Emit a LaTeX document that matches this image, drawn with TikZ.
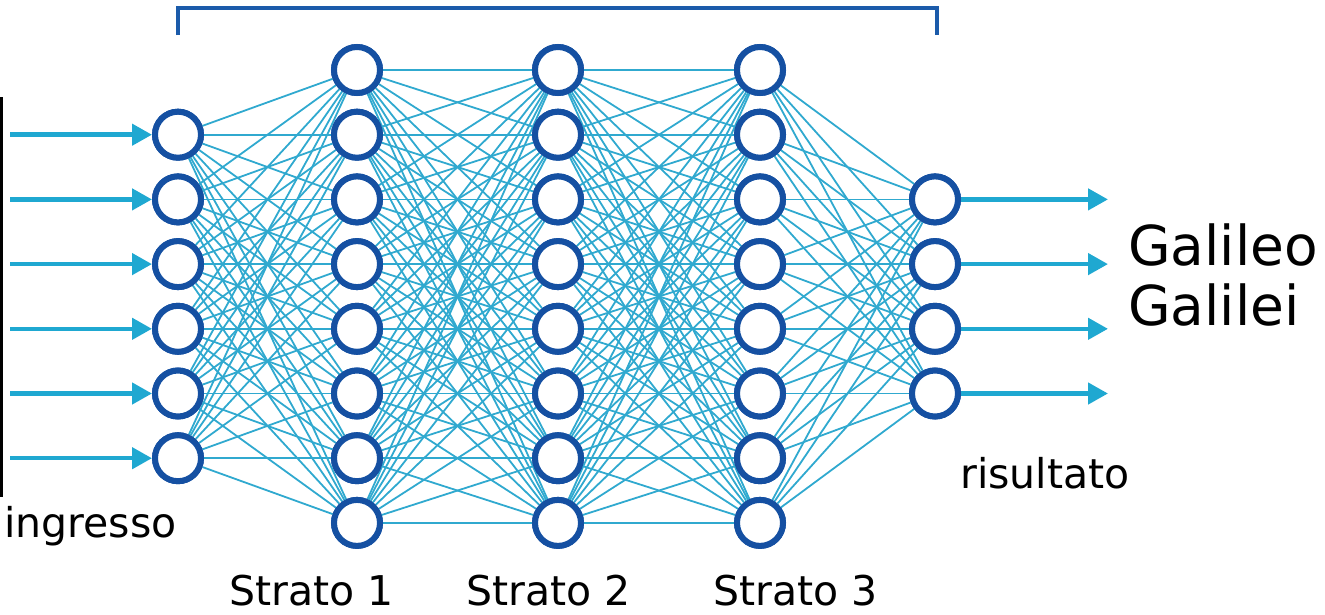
\documentclass[tikz,border=0pt]{standalone}
\usepackage{fontspec}
\setmainfont{DejaVu Sans}
\usetikzlibrary{arrows.meta}

\definecolor{nodeblue}{HTML}{1550A2}
\definecolor{linkcyan}{HTML}{30A9CF}
\definecolor{arrowcyan}{HTML}{1FA8D1}
\definecolor{bracketblue}{HTML}{1B5BAA}

\tikzset{
  neuron/.style={circle, draw=nodeblue, line width=6pt, fill=white,
    minimum size=46pt, inner sep=0pt},
  link/.style={draw=linkcyan, line width=1.8pt},
  flow/.style={draw=arrowcyan, line width=4.5pt,
    -{Triangle[length=20pt,width=21pt]}},
  label/.style={anchor=base west, inner sep=0pt, text=black},
}

\begin{document}
\begin{tikzpicture}[x=1pt, y=-1pt]
  \useasboundingbox (0,0) rectangle (1325,614);

  % layer columns
  \def\xin{178}\def\xa{357}\def\xb{558}\def\xc{760}\def\xout{935}
  \def\dy{64.7}

  % neurons (placed first so the links can refer to them)
  \foreach \k in {1,...,6}
    \node[neuron] (i\k) at (\xin, 70+\k*\dy) {};
  \foreach \k in {0,...,7} {
    \node[neuron] (a\k) at (\xa, 70+\k*\dy) {};
    \node[neuron] (b\k) at (\xb, 70+\k*\dy) {};
    \node[neuron] (c\k) at (\xc, 70+\k*\dy) {};
  }
  \foreach \k in {2,...,5}
    \node[neuron] (o\k) at (\xout, 70+\k*\dy) {};

  % full connections between consecutive layers
  \foreach \s in {1,...,6}
    \foreach \t in {0,...,7}
      \draw[link] (i\s) -- (a\t);
  \foreach \s in {0,...,7}
    \foreach \t in {0,...,7} {
      \draw[link] (a\s) -- (b\t);
      \draw[link] (b\s) -- (c\t);
    }
  \foreach \s in {0,...,7}
    \foreach \t in {2,...,5}
      \draw[link] (c\s) -- (o\t);

  % redraw neurons over the links
  \foreach \k in {1,...,6}
    \node[neuron] at (i\k) {};
  \foreach \k in {0,...,7} {
    \node[neuron] at (a\k) {};
    \node[neuron] at (b\k) {};
    \node[neuron] at (c\k) {};
  }
  \foreach \k in {2,...,5}
    \node[neuron] at (o\k) {};

  % input arrows
  \foreach \k in {1,...,6} {
    \coordinate (src\k) at (10, 70+\k*\dy);
    \draw[flow] (src\k) -- (i\k.west);
  }
  % output arrows
  \foreach \k in {2,...,5} {
    \coordinate (dst\k) at (1108, 70+\k*\dy);
    \draw[flow] (o\k.east) -- (dst\k);
  }

  % input bar
  \coordinate (barTop) at (1.5,97);
  \coordinate (barBot) at (1.5,497);
  \draw[line width=3pt, black] (barTop) -- (barBot);

  % bracket over the hidden layers
  \coordinate (brL) at (178,35);
  \coordinate (brR) at (937,35);
  \draw[bracketblue, line width=3.5pt] (brL) -- (178,8) -- (937,8) -- (brR);

  % labels
  \node[label, font=\fontsize{41}{48}\selectfont] (lin) at (4,537) {ingresso};
  \node[label, font=\fontsize{41}{48}\selectfont] (lout) at (960,488) {risultato};
  \node[label, font=\fontsize{41}{48}\selectfont] (s1) at (229,605) {Strato 1};
  \node[label, font=\fontsize{41}{48}\selectfont] (s2) at (466,605) {Strato 2};
  \node[label, font=\fontsize{41}{48}\selectfont] (s3) at (713,605) {Strato 3};
  \node[label, font=\fontsize{55}{60}\selectfont] (g1) at (1128,265) {Galileo};
  \node[label, font=\fontsize{55}{60}\selectfont] (g2) at (1128,325) {Galilei};
\end{tikzpicture}
\end{document}
